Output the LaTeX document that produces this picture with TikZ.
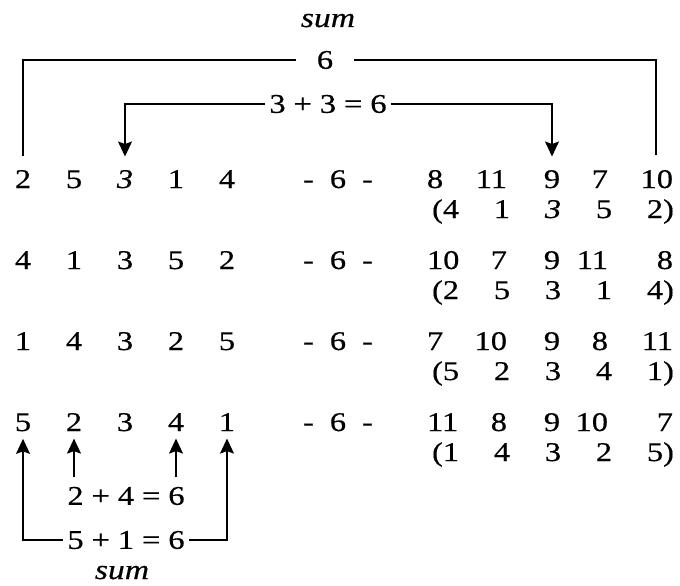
\documentclass[tikz,border=0pt]{standalone}
\usepackage{fontspec}
\setmainfont{Liberation Serif}[FakeStretch=1.2,FakeBold=0.5]
\usetikzlibrary{arrows.meta,positioning,calc}
\newcommand{\sumeq}[3]{#1\hspace{8pt}+\hspace{8pt}#2\hspace{8pt}=\hspace{8pt}#3}

\begin{document}
\begin{tikzpicture}[x=1pt,y=-1pt,line width=1.2pt,
  every node/.style={font=\fontsize{27}{30}\selectfont,inner sep=0pt},
  cell/.style={anchor=base},
  eqn/.style={inner xsep=4pt},
  sumlbl/.style={font=\fontsize{28}{30}\selectfont\itshape,anchor=base},
  arr/.style={-{Stealth[length=15pt,width=14pt,inset=2.5pt]}}]
\useasboundingbox (0,0) rectangle (680,586);

\foreach \vals [count=\r] in {{2,5,\textit{3},1,4},{4,1,3,5,2},{1,4,3,2,5},{5,2,3,4,1}}{
  \foreach \v [count=\c] in \vals
    \node[cell] (l\r\c) at ({23+51*(\c-1)},{188+81*(\r-1)}) {\v};
  \node[cell] (m\r) at (338,{188+81*(\r-1)}) {-\hspace{16pt}6\hspace{16pt}-};
}
\foreach \c/\x/\al/\vals in {1/444/l/{8,10,7,11},2/490/r/{11,7,10,8},3/552/c/{9,9,9,9},4/591/r/{7,11,8,10},5/656/r/{10,8,11,7}}
  \foreach \v [count=\r] in \vals
    \node[cell] (r\r\c) at (\x,{188+81*(\r-1)}) {\makebox[34pt][\al]{\v}};
\foreach \vals [count=\r] in {{4,1,\textit{3},5,2},{2,5,3,1,4},{5,2,3,4,1},{1,4,3,2,5}}
  \foreach \v [count=\c] in \vals
    \node[cell] (p\r\c) at ({451+51*(\c-1)},{218+81*(\r-1)}) {\ifnum\c=1 \llap{(}\fi\v\ifnum\c=5 \rlap{)}\fi};

\node[sumlbl] (sumtop) at (328,27) {sum};
\node[inner xsep=20pt] (tot) at (325,60) {6};
\draw[shorten >=14pt] (tot.west) -| (l11.north);
\draw[shorten >=14pt] (tot.east) -| (r15.north);
\node[eqn] (eqtop) at (328,104) {\sumeq{3}{3}{6}};
\draw[arr,shorten >=13pt] (eqtop.west) -| (l13.north);
\draw[arr,shorten >=13pt] (eqtop.east) -| (r13.north);

\node[eqn] (eqin) at (126,496) {\sumeq{2}{4}{6}};
\node[eqn] (eqout) at (126,540) {\sumeq{5}{1}{6}};
\draw[arr,shorten >=7pt] ($(eqin.north -| l42)+(0,-9)$) -- (l42.south);
\draw[arr,shorten >=7pt] ($(eqin.north -| l44)+(0,-9)$) -- (l44.south);
\draw[arr,shorten >=7pt] (eqout.west) -| (l41.south);
\draw[arr,shorten >=7pt] (eqout.east) -| (l45.south);
\node[sumlbl] (sumbot) at (122,579) {sum};
\end{tikzpicture}
\end{document}
